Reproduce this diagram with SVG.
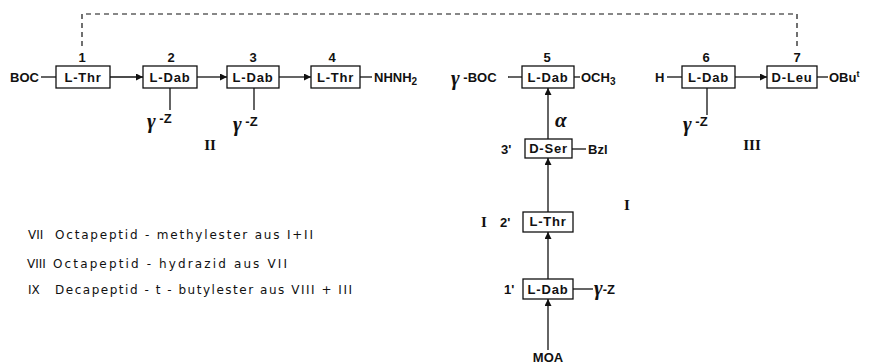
<svg xmlns="http://www.w3.org/2000/svg" width="872" height="364" viewBox="0 0 872 364">
<style>
.bg{fill:#ffffff}
.box{fill:#ffffff;stroke:#111;stroke-width:1.3}
.lbl{font-family:"Liberation Sans",Arial,sans-serif;font-weight:bold;font-size:13px;letter-spacing:0.8px;fill:#111;text-anchor:middle}
.num{font-family:"Liberation Sans",Arial,sans-serif;font-weight:bold;font-size:13px;fill:#111;text-anchor:middle}
.sub{font-family:"Liberation Sans",Arial,sans-serif;font-weight:bold;font-size:13px;fill:#111}
.gr{font-family:"Liberation Serif","Times New Roman",serif;font-style:italic;font-weight:bold;font-size:21px;fill:#111}
.rom{font-family:"Liberation Serif","Times New Roman",serif;font-weight:bold;font-size:15px;fill:#111;text-anchor:middle}
.leg{font-family:"DejaVu Sans",Verdana,sans-serif;font-size:12px;fill:#111}
.ln{stroke:#111;stroke-width:1.3;fill:none}
.dash{stroke:#111;stroke-width:1.2;fill:none;stroke-dasharray:5 4}
.arr{stroke:#111;stroke-width:1.3;fill:none;marker-end:url(#ah)}
</style>
<defs>
<marker id="ah" viewBox="0 0 10 10" refX="10" refY="5" markerWidth="8" markerHeight="7" markerUnits="userSpaceOnUse" orient="auto">
<path d="M0,0 L10,5 L0,10 z" fill="#111"/>
</marker>
</defs>
<rect class="bg" x="0" y="0" width="872" height="364"/>

<g id="connectors">
<path class="dash" d="M82,46 V14 H797 V48"/>
<line class="ln" x1="41" y1="77" x2="56" y2="77"/>
<line class="arr" x1="110" y1="77" x2="143" y2="77"/>
<line class="arr" x1="197" y1="77" x2="227" y2="77"/>
<line class="arr" x1="279" y1="77" x2="311" y2="77"/>
<line class="ln" x1="360" y1="77" x2="372" y2="77"/>
<line class="ln" x1="170" y1="88" x2="170" y2="110"/>
<line class="ln" x1="254" y1="88" x2="254" y2="110"/>
<line class="ln" x1="508" y1="77" x2="522" y2="77"/>
<line class="ln" x1="574" y1="77" x2="580" y2="77"/>
<line class="ln" x1="667" y1="77" x2="682" y2="77"/>
<line class="arr" x1="735" y1="77" x2="767" y2="77"/>
<line class="ln" x1="817" y1="77" x2="828" y2="77"/>
<line class="ln" x1="707" y1="88" x2="707" y2="115"/>
<line class="arr" x1="548" y1="139" x2="548" y2="88"/>
<line class="ln" x1="572" y1="149" x2="586" y2="149"/>
<line class="arr" x1="548" y1="212" x2="548" y2="158"/>
<line class="arr" x1="548" y1="279" x2="548" y2="232"/>
<line class="ln" x1="573" y1="289" x2="593" y2="289"/>
<line class="arr" x1="548" y1="350" x2="548" y2="299"/>
</g>

<g id="n1">
<rect class="box" x="56" y="66" width="54" height="22"/>
<text class="lbl" x="83" y="82">L-Thr</text>
<text class="num" x="82" y="62">1</text>
</g>
<g id="n2">
<rect class="box" x="143" y="66" width="54" height="22"/>
<text class="lbl" x="170" y="82">L-Dab</text>
<text class="num" x="171" y="62">2</text>
</g>
<g id="n3">
<rect class="box" x="227" y="66" width="52" height="22"/>
<text class="lbl" x="253" y="82">L-Dab</text>
<text class="num" x="253" y="62">3</text>
</g>
<g id="n4">
<rect class="box" x="311" y="66" width="49" height="22"/>
<text class="lbl" x="335.5" y="82">L-Thr</text>
<text class="num" x="332" y="62">4</text>
</g>
<g id="n5">
<rect class="box" x="522" y="66" width="52" height="22"/>
<text class="lbl" x="548" y="82">L-Dab</text>
<text class="num" x="547" y="62">5</text>
</g>
<g id="n6">
<rect class="box" x="682" y="66" width="53" height="22"/>
<text class="lbl" x="708.5" y="82">L-Dab</text>
<text class="num" x="706" y="62">6</text>
</g>
<g id="n7">
<rect class="box" x="767" y="66" width="50" height="22"/>
<text class="lbl" x="792" y="82" letter-spacing="0.3">D-Leu</text>
<text class="num" x="797" y="62">7</text>
</g>
<g id="n3p">
<rect class="box" x="525" y="139" width="47" height="19"/>
<text class="lbl" x="548.5" y="153" letter-spacing="0.3">D-Ser</text>
<text class="sub" x="501" y="154">3'</text>
</g>
<g id="n2p">
<rect class="box" x="523" y="212" width="50" height="20"/>
<text class="lbl" x="548" y="226">L-Thr</text>
<text class="sub" x="500" y="227">2'</text>
</g>
<g id="n1p">
<rect class="box" x="523" y="279" width="50" height="20"/>
<text class="lbl" x="548" y="294">L-Dab</text>
<text class="sub" x="504" y="294">1'</text>
</g>

<g id="labels">
<text class="sub" x="10" y="82">BOC</text>
<text class="sub" x="374" y="82">NHNH<tspan font-size="10" dy="3">2</tspan></text>
<text x="451" y="85"><tspan class="gr">γ</tspan><tspan class="sub" dy="-3"> -BOC</tspan></text>
<text class="sub" x="581" y="82">OCH<tspan font-size="10" dy="3">3</tspan></text>
<text class="sub" x="655" y="82">H</text>
<text class="sub" x="829" y="82">OBu<tspan font-size="9" dy="-5">t</tspan></text>
<text class="sub" x="588" y="154">Bzl</text>
<text x="147" y="128"><tspan class="gr">γ</tspan><tspan class="sub" dy="-5"> -Z</tspan></text>
<text x="233" y="131"><tspan class="gr">γ</tspan><tspan class="sub" dy="-5"> -Z</tspan></text>
<text x="683" y="131"><tspan class="gr">γ</tspan><tspan class="sub" dy="-5"> -Z</tspan></text>
<text x="594" y="295"><tspan class="gr">γ</tspan><tspan class="sub" dy="-1">-Z</tspan></text>
<text class="gr" x="555" y="127" font-size="18">α</text>
<text class="sub" x="548" y="362" text-anchor="middle">MOA</text>
<text class="rom" x="210" y="150">II</text>
<text class="rom" x="752" y="150">III</text>
<text class="rom" x="484" y="227">I</text>
<text class="rom" x="627" y="210">I</text>
</g>

<g id="legend">
<text class="leg" x="28" y="239">VII</text>
<text class="leg" x="55" y="239" textLength="258" lengthAdjust="spacing">Octapeptid - methylester aus I+II</text>
<text class="leg" x="27" y="268">VIII</text>
<text class="leg" x="53" y="268" textLength="234" lengthAdjust="spacing">Octapeptid - hydrazid aus VII</text>
<text class="leg" x="28" y="294">IX</text>
<text class="leg" x="55" y="294" textLength="297" lengthAdjust="spacing">Decapeptid - t - butylester aus VIII + III</text>
</g>
</svg>
